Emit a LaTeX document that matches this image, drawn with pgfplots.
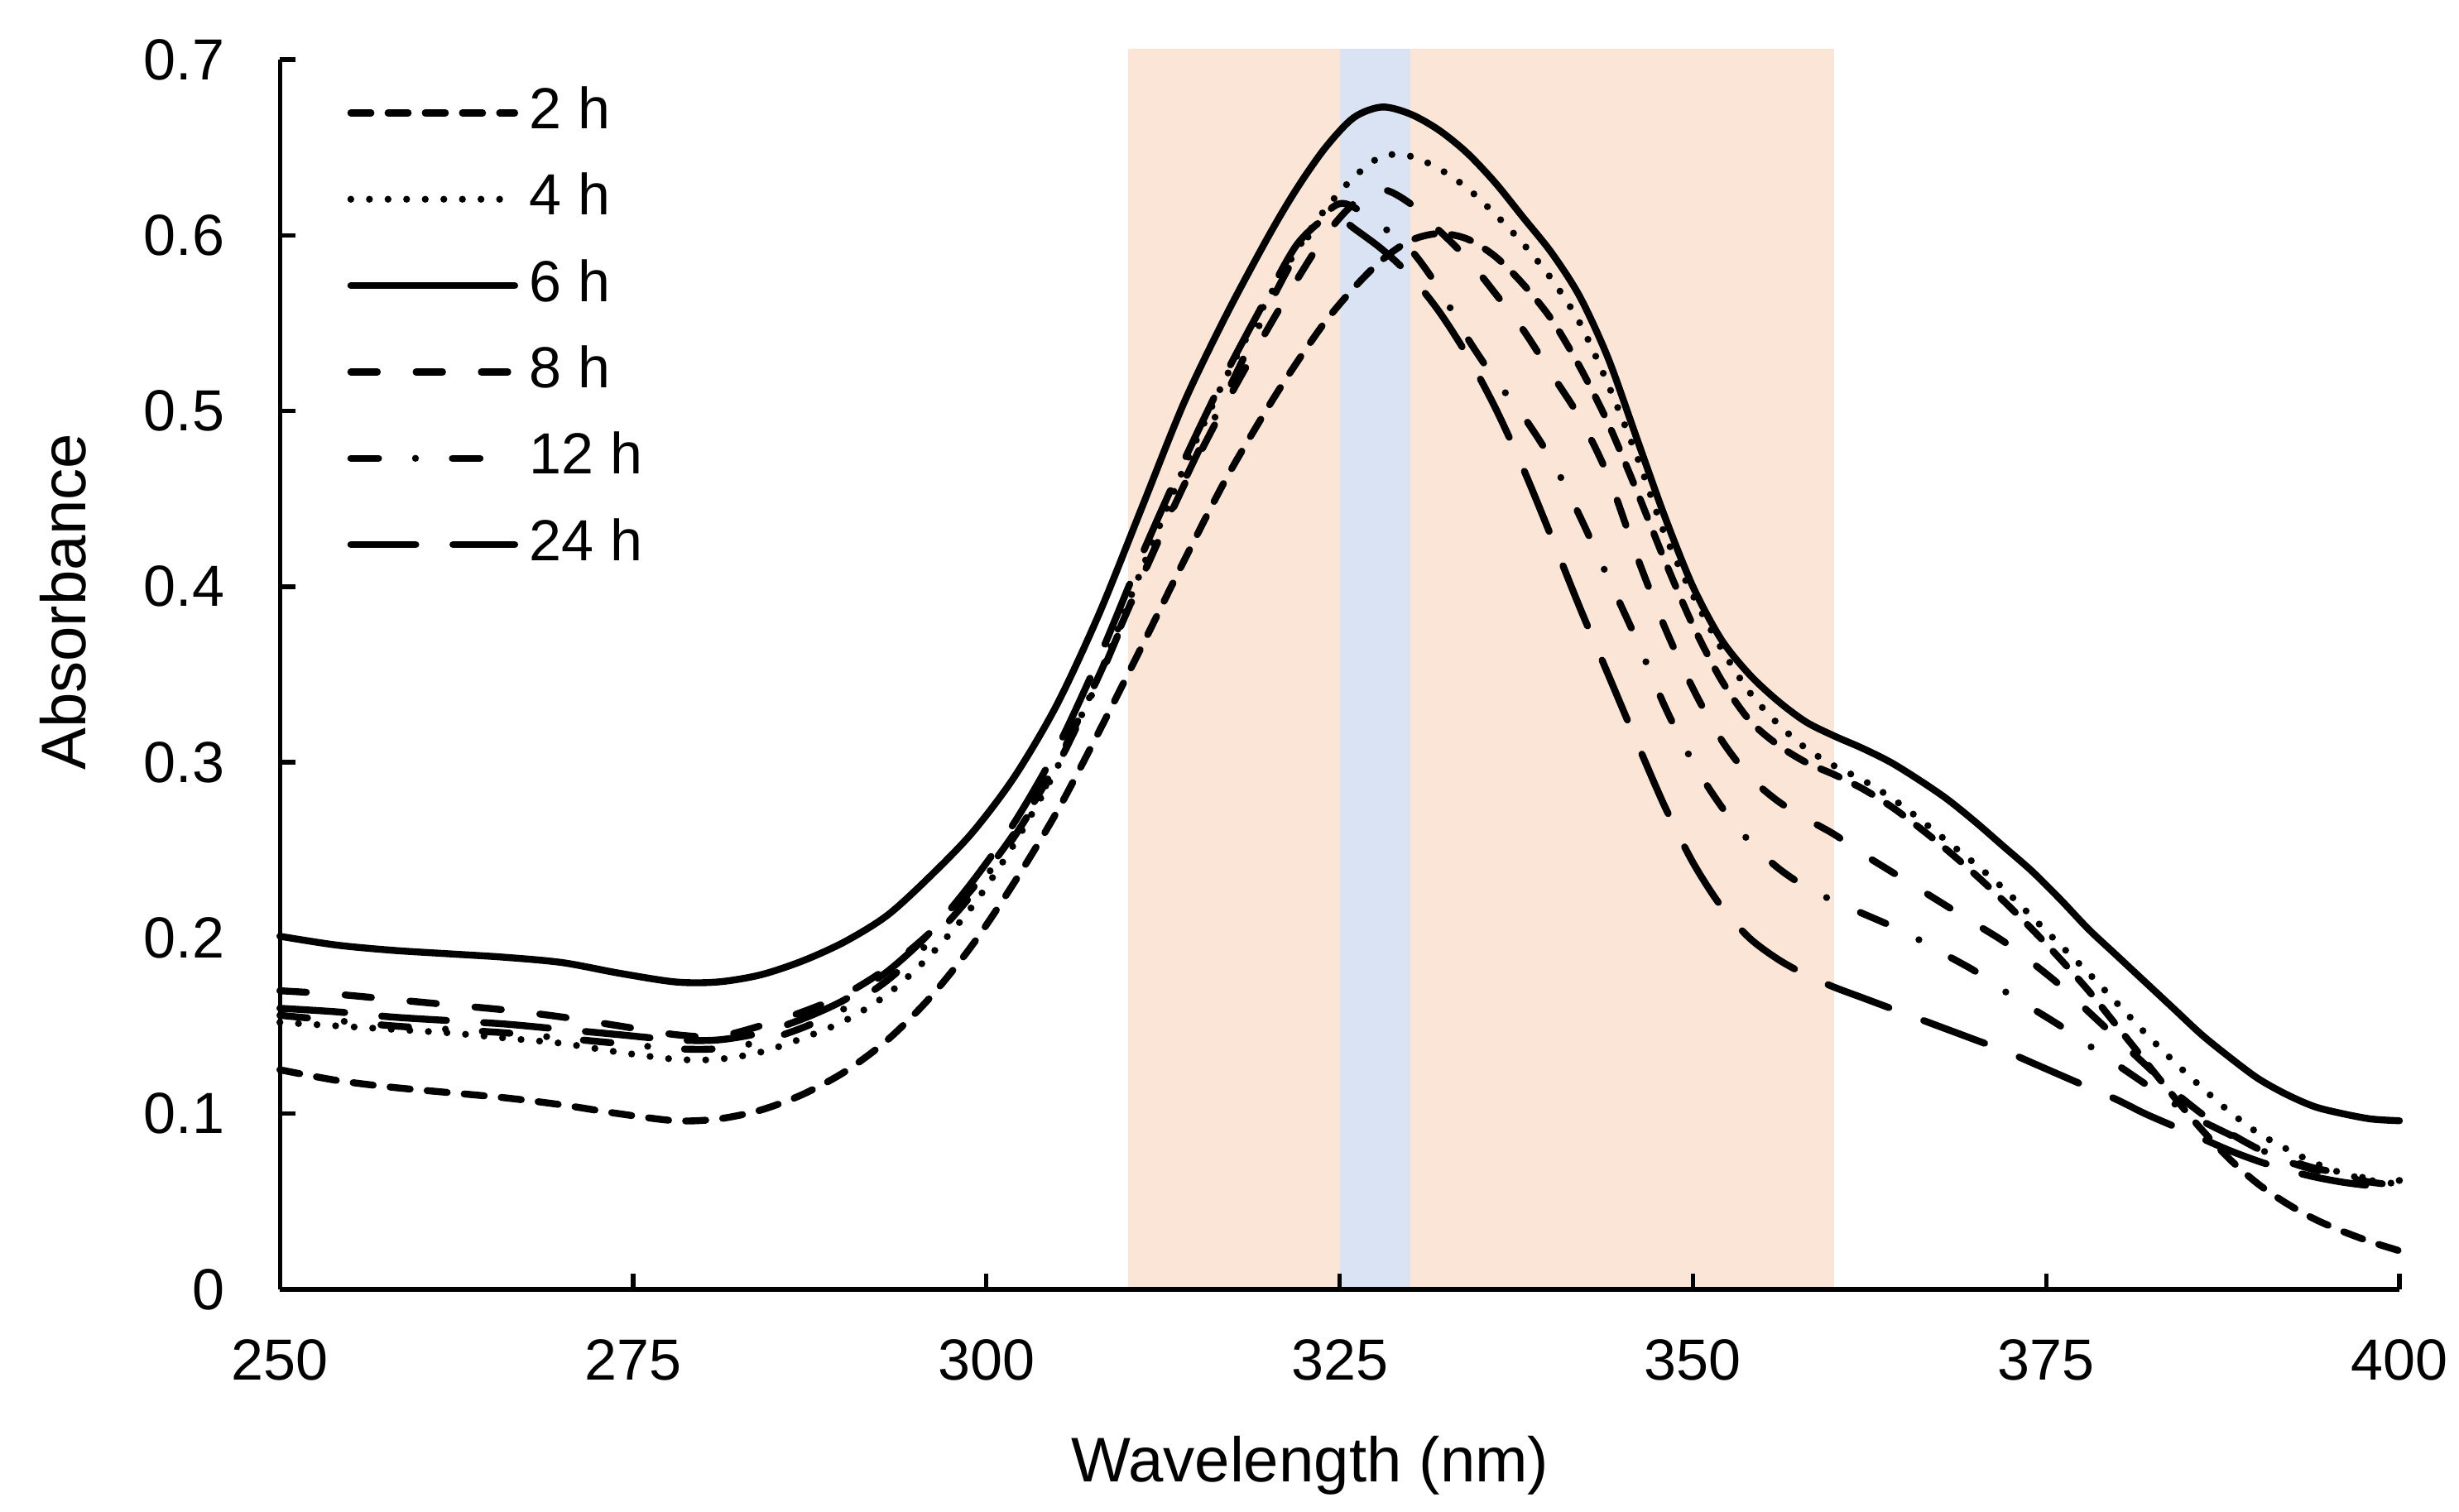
\documentclass[border=0pt]{standalone}
\usepackage{fontspec}
\setmainfont{Liberation Sans}
\usepackage{pgfplots}
\pgfplotsset{compat=1.18}
\definecolor{peach}{HTML}{FBE5D6}
\definecolor{lblue}{HTML}{DAE3F3}
\tikzset{
  base/.style={black, line width=1.1pt, line cap=round, line join=round},
  s2/.style={base, dash pattern=on 3.2pt off 2.7pt},
  s4/.style={base, dash pattern=on 0pt off 2.95pt},
  s6/.style={base},
  s8/.style={base, dash pattern=on 4.2pt off 6.15pt},
  s12/.style={base, dash pattern=on 4.4pt off 5.85pt on 0pt off 5.85pt},
  s24/.style={base, dash pattern=on 10.3pt off 5.9pt},
}
\pgfplotsset{shortleg/.style={legend image code/.code={\draw[##1] (0pt,0pt) -- (20.6pt,0pt);}}}
\begin{document}
\begin{tikzpicture}
\begin{axis}[name=ax, scale only axis, width=336.2pt, height=195.1pt,
  xmin=250, xmax=400, ymin=0, ymax=0.7, clip=false, axis on top,
  axis lines=left, axis line style={-, line width=0.7pt, black},
  xtick={250,275,300,325,350,375,400}, xticklabels={250,275,300,325,350,375,400},
  ytick={0,0.1,0.2,0.3,0.4,0.5,0.6,0.7}, yticklabels={0,0.1,0.2,0.3,0.4,0.5,0.6,0.7},
  tick align=inside, major tick length=2.5pt, tick style={line width=0.7pt, black},
  ticklabel style={font=\fontsize{9.2}{11}\selectfont},
  xticklabel style={yshift=-4.4pt}, yticklabel style={xshift=-5.25pt},
  xlabel={Wavelength (nm)}, ylabel={Absorbance},
  label style={font=\fontsize{10}{12}\selectfont},
  xlabel style={at={(axis description cs:0.486,-0.143)}, anchor=center},
  ylabel style={at={(axis description cs:-0.1022,0.559)}, anchor=center},
  legend image code/.code={\draw[#1] (0pt,0pt) -- (26pt,0pt);},
  legend cell align=left,
  legend style={at={(axis description cs:0,1)}, anchor=north west, xshift=10.5pt, yshift=-3.75pt,
    draw=none, fill=none, inner sep=0pt, row sep=4.7pt, column sep=1.8pt,
    nodes={inner sep=0pt, text height=7pt, text depth=2pt},
    font=\fontsize{9.2}{11}\selectfont},
]
\addplot[draw=none, fill=peach, forget plot] coordinates {(310,0) (310,0.706) (360,0.706) (360,0)} -- cycle;
\addplot[draw=none, fill=lblue, forget plot] coordinates {(325,0) (325,0.706) (330,0.706) (330,0)} -- cycle;

\addplot[s2, smooth, tension=0.5] coordinates {
(250,0.125)(254,0.119)(258,0.115)(262,0.112)(266,0.109)(270,0.105)(274,0.100)(278,0.096)(281,0.097)(284,0.102)(287,0.111)(290,0.124)(293,0.142)(296,0.166)(299,0.196)(302,0.232)(305,0.272)(308,0.318)(311,0.366)(314,0.415)(317,0.462)(320,0.503)(322,0.528)(324,0.551)(326,0.570)(328,0.586)(330,0.597)(332,0.601)(334,0.598)(336,0.588)(338,0.572)(340,0.552)(342,0.525)(344,0.493)(346,0.455)(348,0.415)(350,0.378)(352,0.347)(354,0.324)(356,0.310)(358,0.300)(360,0.293)(362,0.285)(364,0.275)(366,0.263)(368,0.250)(370,0.236)(372,0.221)(374,0.205)(376,0.188)(378,0.170)(380,0.150)(382,0.130)(384,0.110)(386,0.091)(388,0.074)(390,0.060)(392,0.049)(394,0.040)(396,0.033)(398,0.027)(400,0.022)};
\addlegendentry{2 h}

\addplot[s4, smooth, tension=0.5] coordinates {
(250,0.152)(254,0.150)(258,0.148)(262,0.146)(266,0.143)(270,0.140)(274,0.135)(278,0.131)(281,0.131)(284,0.135)(287,0.143)(290,0.153)(293,0.168)(296,0.190)(299,0.218)(302,0.254)(305,0.297)(308,0.350)(311,0.410)(314,0.468)(317,0.520)(320,0.565)(322,0.592)(324,0.615)(326,0.633)(328,0.645)(330,0.645)(332,0.638)(334,0.627)(336,0.612)(338,0.595)(340,0.575)(342,0.550)(344,0.515)(346,0.475)(348,0.430)(350,0.395)(352,0.365)(354,0.340)(356,0.322)(358,0.308)(360,0.298)(362,0.290)(364,0.280)(366,0.268)(368,0.255)(370,0.242)(372,0.228)(374,0.212)(376,0.196)(378,0.180)(380,0.163)(382,0.146)(384,0.130)(386,0.115)(388,0.101)(390,0.089)(392,0.080)(394,0.072)(396,0.066)(398,0.062)(400,0.060)};
\addlegendentry{4 h}

\addplot[s6, smooth, tension=0.5] coordinates {
(250,0.201)(254,0.196)(258,0.193)(262,0.191)(266,0.189)(270,0.186)(274,0.180)(278,0.175)(281,0.175)(284,0.179)(287,0.187)(290,0.198)(293,0.213)(296,0.235)(299,0.260)(302,0.292)(305,0.333)(308,0.385)(311,0.445)(314,0.505)(317,0.555)(320,0.600)(322,0.627)(324,0.650)(326,0.667)(328,0.673)(330,0.669)(332,0.660)(334,0.647)(336,0.630)(338,0.610)(340,0.590)(342,0.565)(344,0.530)(346,0.485)(348,0.440)(350,0.400)(352,0.370)(354,0.350)(356,0.335)(358,0.323)(360,0.315)(362,0.308)(364,0.300)(366,0.290)(368,0.279)(370,0.266)(372,0.252)(374,0.238)(376,0.222)(378,0.205)(380,0.190)(382,0.175)(384,0.160)(386,0.145)(388,0.132)(390,0.120)(392,0.111)(394,0.104)(396,0.100)(398,0.097)(400,0.096)};
\addlegendentry{6 h}

\addplot[s8, smooth, tension=0.5] coordinates {
(250,0.170)(254,0.168)(258,0.165)(262,0.162)(266,0.159)(270,0.155)(274,0.150)(278,0.145)(281,0.144)(284,0.150)(287,0.158)(290,0.168)(293,0.183)(296,0.203)(299,0.228)(302,0.260)(305,0.300)(308,0.350)(311,0.405)(314,0.458)(317,0.505)(320,0.548)(322,0.575)(324,0.600)(326,0.618)(328,0.626)(330,0.618)(332,0.603)(334,0.587)(336,0.567)(338,0.546)(340,0.521)(342,0.496)(344,0.463)(346,0.418)(348,0.377)(350,0.342)(352,0.313)(354,0.292)(356,0.278)(358,0.268)(360,0.259)(362,0.248)(364,0.238)(366,0.228)(368,0.218)(370,0.208)(372,0.198)(374,0.186)(376,0.173)(378,0.158)(380,0.143)(382,0.128)(384,0.113)(386,0.100)(388,0.089)(390,0.080)(392,0.073)(394,0.068)(396,0.064)(398,0.061)(400,0.059)};
\addlegendentry{8 h}

\addplot[s12, smooth, tension=0.5, shortleg] coordinates {
(250,0.156)(254,0.153)(258,0.150)(262,0.148)(266,0.146)(270,0.143)(274,0.140)(278,0.137)(281,0.137)(284,0.141)(287,0.149)(290,0.160)(293,0.176)(296,0.198)(299,0.225)(302,0.258)(305,0.298)(308,0.348)(311,0.405)(314,0.460)(317,0.510)(320,0.560)(322,0.590)(324,0.612)(325,0.618)(326,0.616)(328,0.605)(330,0.592)(332,0.570)(334,0.542)(336,0.518)(338,0.497)(340,0.472)(342,0.440)(344,0.405)(346,0.370)(348,0.332)(350,0.300)(352,0.275)(354,0.255)(356,0.240)(358,0.229)(360,0.221)(362,0.214)(364,0.207)(366,0.199)(368,0.190)(370,0.181)(372,0.170)(374,0.160)(376,0.150)(378,0.139)(380,0.128)(382,0.117)(384,0.106)(386,0.096)(388,0.088)(390,0.080)(392,0.074)(394,0.069)(396,0.066)(398,0.063)(400,0.062)};
\addlegendentry{12 h}

\addplot[s24, smooth, tension=0.5] coordinates {
(250,0.160)(254,0.158)(258,0.155)(262,0.153)(266,0.151)(270,0.148)(274,0.145)(278,0.142)(281,0.142)(284,0.146)(287,0.154)(290,0.165)(293,0.181)(296,0.203)(299,0.232)(302,0.266)(305,0.308)(308,0.360)(311,0.418)(314,0.472)(317,0.522)(320,0.567)(322,0.595)(324,0.610)(325,0.610)(326,0.604)(328,0.592)(330,0.577)(332,0.557)(334,0.532)(336,0.502)(338,0.467)(340,0.428)(342,0.388)(344,0.350)(346,0.312)(348,0.275)(350,0.243)(352,0.218)(354,0.200)(356,0.188)(358,0.179)(360,0.172)(362,0.166)(364,0.160)(366,0.154)(368,0.148)(370,0.142)(372,0.136)(374,0.129)(376,0.122)(378,0.115)(380,0.108)(382,0.100)(384,0.093)(386,0.086)(388,0.079)(390,0.073)(392,0.068)(394,0.064)(396,0.061)(398,0.059)(400,0.058)};
\addlegendentry{24 h}
\end{axis}
\pgfresetboundingbox
\path ([xshift=-44.4pt,yshift=-35.3pt]ax.south west) rectangle ([xshift=9.45pt,yshift=9.45pt]ax.north east);
\end{tikzpicture}
\end{document}
